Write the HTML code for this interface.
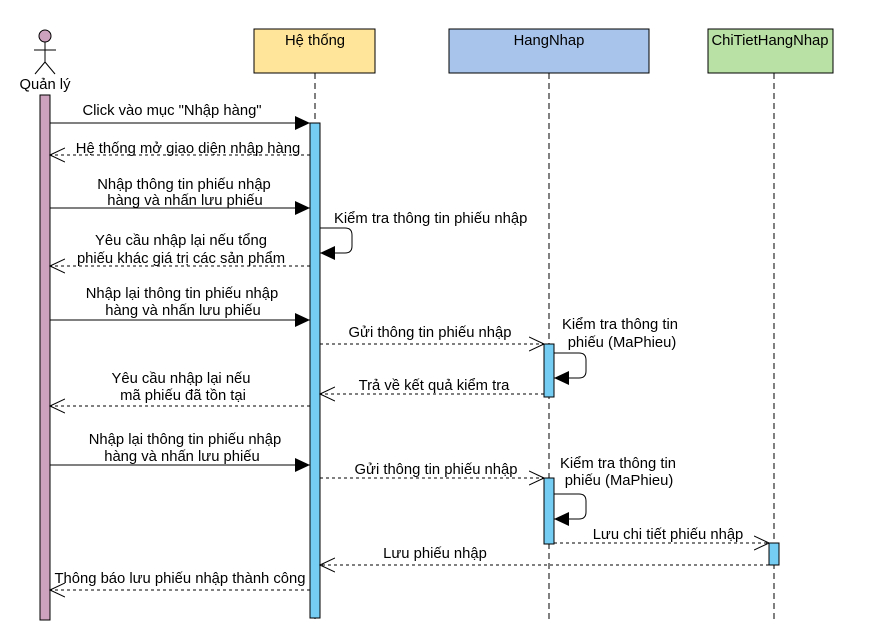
<!DOCTYPE html>
<html><head><meta charset="utf-8"><style>
body{margin:0;background:#fff}
svg text{font-family:"Liberation Sans",Arial,sans-serif;font-size:14.8px;fill:#000}
</style></head><body>
<svg width="880" height="636" xmlns="http://www.w3.org/2000/svg">
<defs>
<marker id="f" markerWidth="16" markerHeight="16" refX="15" refY="8" orient="auto" markerUnits="userSpaceOnUse"><path d="M0,1 L15,8 L0,15 Z" fill="#000"/></marker>
<marker id="o" markerWidth="16" markerHeight="16" refX="15" refY="8" orient="auto" markerUnits="userSpaceOnUse"><path d="M0,1 L15,8 L0,15" fill="none" stroke="#000"/></marker>
</defs>
<g stroke="#000" fill="none" stroke-width="1">
<circle cx="45" cy="36" r="6" fill="#cda2be"/>
<line x1="45" y1="42" x2="45" y2="62"/>
<line x1="34" y1="50" x2="56" y2="50"/>
<line x1="45" y1="62" x2="35" y2="74"/>
<line x1="45" y1="62" x2="55" y2="74"/>
</g>
<text x="45" y="89" text-anchor="middle">Quản lý</text>
<rect x="40" y="95" width="10" height="525" fill="#cda2be" stroke="#000"/>
<rect x="254" y="29" width="121" height="44" fill="#ffe599" stroke="#000"/>
<text x="315" y="45" text-anchor="middle">Hệ thống</text>
<rect x="449" y="29" width="200" height="44" fill="#a9c4eb" stroke="#000"/>
<text x="549" y="45" text-anchor="middle">HangNhap</text>
<rect x="708" y="29" width="125" height="44" fill="#b9e0a5" stroke="#000"/>
<text x="770" y="45" text-anchor="middle">ChiTietHangNhap</text>
<g stroke="#000" stroke-dasharray="6,4">
<line x1="315" y1="73" x2="315" y2="620"/>
<line x1="549" y1="73" x2="549" y2="620"/>
<line x1="774" y1="73" x2="774" y2="620"/>
</g>
<rect x="310" y="123" width="10" height="495" fill="#76cdf4" stroke="#000"/>
<rect x="544" y="344" width="10" height="53" fill="#76cdf4" stroke="#000"/>
<rect x="544" y="478" width="10" height="66" fill="#76cdf4" stroke="#000"/>
<rect x="769" y="543" width="10" height="22" fill="#76cdf4" stroke="#000"/>
<g stroke="#000" fill="none">
<line x1="50" y1="123" x2="310" y2="123" marker-end="url(#f)"/>
<line x1="310" y1="155" x2="50" y2="155" stroke-dasharray="3,3" marker-end="url(#o)"/>
<line x1="50" y1="208" x2="310" y2="208" marker-end="url(#f)"/>
<path d="M320,228 L345,228 Q352,228 352,235 L352,246 Q352,253 345,253 L320,253" marker-end="url(#f)"/>
<line x1="310" y1="266" x2="50" y2="266" stroke-dasharray="3,3" marker-end="url(#o)"/>
<line x1="50" y1="320" x2="310" y2="320" marker-end="url(#f)"/>
<line x1="320" y1="344" x2="544" y2="344" stroke-dasharray="3,3" marker-end="url(#o)"/>
<path d="M554,353 L579,353 Q586,353 586,360 L586,371 Q586,378 579,378 L554,378" marker-end="url(#f)"/>
<line x1="544" y1="394" x2="320" y2="394" stroke-dasharray="3,3" marker-end="url(#o)"/>
<line x1="310" y1="406" x2="50" y2="406" stroke-dasharray="3,3" marker-end="url(#o)"/>
<line x1="50" y1="465" x2="310" y2="465" marker-end="url(#f)"/>
<line x1="320" y1="478" x2="544" y2="478" stroke-dasharray="3,3" marker-end="url(#o)"/>
<path d="M554,494 L579,494 Q586,494 586,501 L586,512 Q586,519 579,519 L554,519" marker-end="url(#f)"/>
<line x1="554" y1="543" x2="769" y2="543" stroke-dasharray="3,3" marker-end="url(#o)"/>
<line x1="769" y1="565" x2="320" y2="565" stroke-dasharray="3,3" marker-end="url(#o)"/>
<line x1="310" y1="590" x2="50" y2="590" stroke-dasharray="3,3" marker-end="url(#o)"/>
</g>
<g text-anchor="middle">
<text x="172" y="115">Click vào mục "Nhập hàng"</text>
<text x="188" y="153">Hệ thống mở giao diện nhập hàng</text>
<text x="184" y="189">Nhập thông tin phiếu nhập</text>
<text x="185" y="205">hàng và nhấn lưu phiếu</text>
<text x="181" y="245">Yêu cầu nhập lại nếu tổng</text>
<text x="181" y="263">phiếu khác giá trị các sản phẩm</text>
<text x="182" y="298">Nhập lại thông tin phiếu nhập</text>
<text x="183" y="315">hàng và nhấn lưu phiếu</text>
<text x="430" y="337">Gửi thông tin phiếu nhập</text>
<text x="620" y="329">Kiểm tra thông tin</text>
<text x="622" y="347">phiếu (MaPhieu)</text>
<text x="434" y="390">Trả về kết quả kiểm tra</text>
<text x="181" y="383">Yêu cầu nhập lại nếu</text>
<text x="183" y="400">mã phiếu đã tồn tại</text>
<text x="185" y="444">Nhập lại thông tin phiếu nhập</text>
<text x="182" y="461">hàng và nhấn lưu phiếu</text>
<text x="436" y="474">Gửi thông tin phiếu nhập</text>
<text x="618" y="468">Kiểm tra thông tin</text>
<text x="619" y="485">phiếu (MaPhieu)</text>
<text x="668" y="539">Lưu chi tiết phiếu nhập</text>
<text x="435" y="558">Lưu phiếu nhập</text>
<text x="180" y="583">Thông báo lưu phiếu nhập thành công</text>
</g>
<text x="334" y="223">Kiểm tra thông tin phiếu nhập</text>
</svg>
</body></html>
